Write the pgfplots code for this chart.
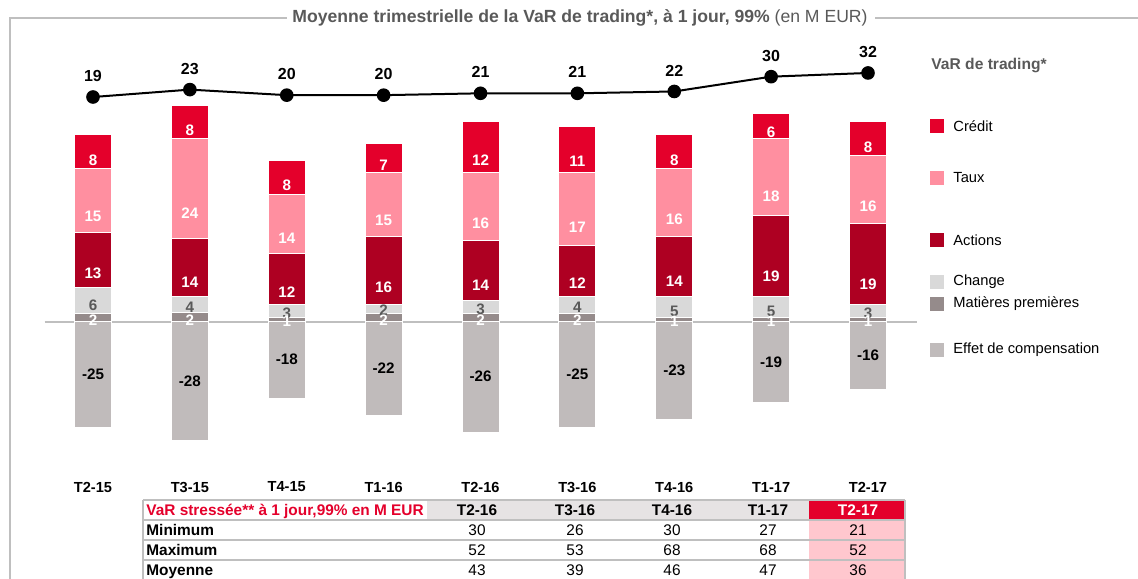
\documentclass[border=0pt]{standalone}
\usepackage{fontspec}
\setmainfont{Liberation Sans}
\usepackage{pgfplots}
\pgfplotsset{compat=1.18}

\definecolor{ccred}{HTML}{E4002B}
\definecolor{ctaux}{HTML}{FF8FA0}
\definecolor{cact}{HTML}{AE0022}
\definecolor{cchg}{HTML}{D9D9D9}
\definecolor{cmat}{HTML}{958B8B}
\definecolor{ceff}{HTML}{C0BBBB}
\definecolor{ctxt}{HTML}{595959}
\definecolor{cline}{HTML}{BFBFBF}
\definecolor{chead}{HTML}{E6E3E4}
\definecolor{cpink}{HTML}{FFC7CE}

\newcommand\fs[1]{\fontsize{#1}{#1}\selectfont}

% 1 px of the reference = 0.5pt; 1 data unit = 2.125pt
\pgfplotsset{
  calc half/.code={\pgfkeys{/pgf/fpu=true,/pgf/fpu/output format=fixed}%
    \pgfmathsetmacro\halfh{-\shiftfac*\pgfplotspointmeta}%
    \pgfkeys{/pgf/fpu=false}},
  mid labels/.style={
    nodes near coords={\pgfmathprintnumber[fixed,precision=0,assume math mode=true]{\pgfplotspointmeta}},
    every node near coord/.append style={/pgfplots/calc half, anchor=center,
      yshift=\halfh pt, font=\bfseries\fs{7.6}}},
  frame/.style={scale only axis, width=435.94pt, height=191.25pt,
    at={(22.28pt,-224.5pt)}, anchor=south west,
    xmin=-0.5, xmax=8.5, axis line style={draw=none}, tick style={draw=none},
    ytick=\empty, xtick=\empty, clip=false},
  seg/.style={fill=#1, draw=white, line width=0.5pt, mid labels},
}

\begin{document}
\begin{tikzpicture}
\path[use as bounding box, clip] (0,0) rectangle (569pt,-289pt);

\begin{scope}[x=0.5pt, y=-0.5pt]
  \draw[cline, line width=0.75pt] (10,580) -- (10,18) -- (287,18);
  \draw[cline, line width=0.75pt] (875,18) -- (1140,18);
  \node[text=ctxt, font=\fs{8.8}] at (580,18)
    {\bfseries Moyenne trimestrielle de la VaR de trading*, à 1 jour, 99\%\mdseries\ (en M EUR)};
  \draw[cline, line width=1pt] (44.6,321.5) -- (916.5,321.5);
\end{scope}

% effet de compensation (negative part)
\def\shiftfac{1.0625}
\begin{axis}[frame, ymin=-30, ymax=60,
  xtick={0,...,8},
  xticklabels={T2-15,T3-15,T4-15,T1-16,T2-16,T3-16,T4-16,T1-17,T2-17},
  xticklabel style={font=\bfseries\fs{7.3}, anchor=center, yshift=-19pt}]
\addplot[ybar, bar width=18.5pt, seg=ceff,
  every node near coord/.append style={text=black}]
  coordinates {(0,-25) (1,-28) (2,-18) (3,-22) (4,-26) (5,-25) (6,-23) (7,-19) (8,-16)};
\end{axis}

% positive components, stacked (the shift is applied twice here)
\def\shiftfac{0.53125}
\begin{axis}[frame, ymin=-30, ymax=60, ybar stacked, bar width=18.5pt]
\addplot[seg=cmat, every node near coord/.append style={text=white, yshift=-0.5pt}]
  coordinates {(0,2) (1,2.1) (2,1) (3,2) (4,2) (5,2) (6,1) (7,1) (8,1)};
\addplot[seg=cchg, every node near coord/.append style={text=ctxt, yshift=0.5pt}]
  coordinates {(0,6) (1,3.8) (2,3) (3,2) (4,3) (5,4) (6,5) (7,5) (8,3)};
\addplot[seg=cact, every node near coord/.append style={text=white}]
  coordinates {(0,13) (1,13.6) (2,12) (3,16) (4,14) (5,12) (6,14) (7,19) (8,19)};
\addplot[seg=ctaux, every node near coord/.append style={text=white}]
  coordinates {(0,15) (1,23.6) (2,14) (3,15) (4,16) (5,17) (6,16) (7,18) (8,16)};
\addplot[seg=ccred, every node near coord/.append style={text=white}]
  coordinates {(0,8) (1,7.7) (2,8) (3,7) (4,12) (5,11) (6,8) (7,6) (8,8)};
\end{axis}

% VaR de trading (own scale)
\begin{axis}[frame, ymin=-171.27, ymax=35.49]
\addplot[black, line width=1pt, mark=*, mark size=2.9pt,
  nodes near coords={\pgfmathprintnumber[assume math mode=true]{\pgfplotspointmeta}},
  every node near coord/.append style={font=\bfseries\fs{8}, anchor=center,
    yshift=10.5pt, text=black}]
  coordinates {(0,19) (1,23) (2,20) (3,20) (4,21) (5,21) (6,22) (7,30) (8,32)};
\end{axis}

\begin{scope}[x=0.5pt, y=-0.5pt]
  % legend
  \node[anchor=west, inner sep=0pt, text=ctxt, font=\bfseries\fs{7.8}] at (931,65) {VaR de trading*};
  \foreach \c/\yy/\t in {ccred/126.3/Crédit, ctaux/178/Taux, cact/240.3/Actions,
      cchg/282/Change, cmat/304/Matières premières, ceff/350/Effet de compensation}{
    \fill[\c] (930,\yy-7) rectangle (944,\yy+7);
    \node[anchor=west, inner sep=0pt, font=\fs{7.35}] at (953,\yy) {\t};
  }
  % stressed VaR table
  \fill[chead] (427,500) rectangle (809,520);
  \fill[ccred] (809,500) rectangle (905,520);
  \fill[cpink] (809,520) rectangle (905,580);
  \foreach \yy in {500,520,540,560}
    \draw[cline, line width=1pt] (143,\yy) -- (905,\yy);
  \draw[cline, line width=1pt] (143,500) -- (143,580) (905,500) -- (905,580);
  \node[anchor=base west, inner sep=0pt, text=ccred, font=\bfseries\fs{7.7}] at (146,515)
    {VaR stressée** à 1 jour,99\% en M EUR};
  \foreach \xx/\t in {477/T2-16, 575/T3-16, 672/T4-16, 768/T1-17}
    \node[anchor=base, inner sep=0pt, font=\bfseries\fs{7.7}] at (\xx,515) {\t};
  \node[anchor=base, inner sep=0pt, font=\bfseries\fs{7.7}, text=white] at (858,515) {T2-17};
  \foreach \yy/\r/\a/\b/\c/\d/\e in {535/Minimum/30/26/30/27/21,
      555/Maximum/52/53/68/68/52, 575/Moyenne/43/39/46/47/36}{
    \node[anchor=base west, inner sep=0pt, font=\bfseries\fs{7.7}] at (146,\yy) {\r};
    \node[anchor=base, inner sep=0pt, font=\fs{7.7}] at (477,\yy) {\a};
    \node[anchor=base, inner sep=0pt, font=\fs{7.7}] at (575,\yy) {\b};
    \node[anchor=base, inner sep=0pt, font=\fs{7.7}] at (672,\yy) {\c};
    \node[anchor=base, inner sep=0pt, font=\fs{7.7}] at (768,\yy) {\d};
    \node[anchor=base, inner sep=0pt, font=\fs{7.7}] at (858,\yy) {\e};
  }
\end{scope}
\end{tikzpicture}
\end{document}
